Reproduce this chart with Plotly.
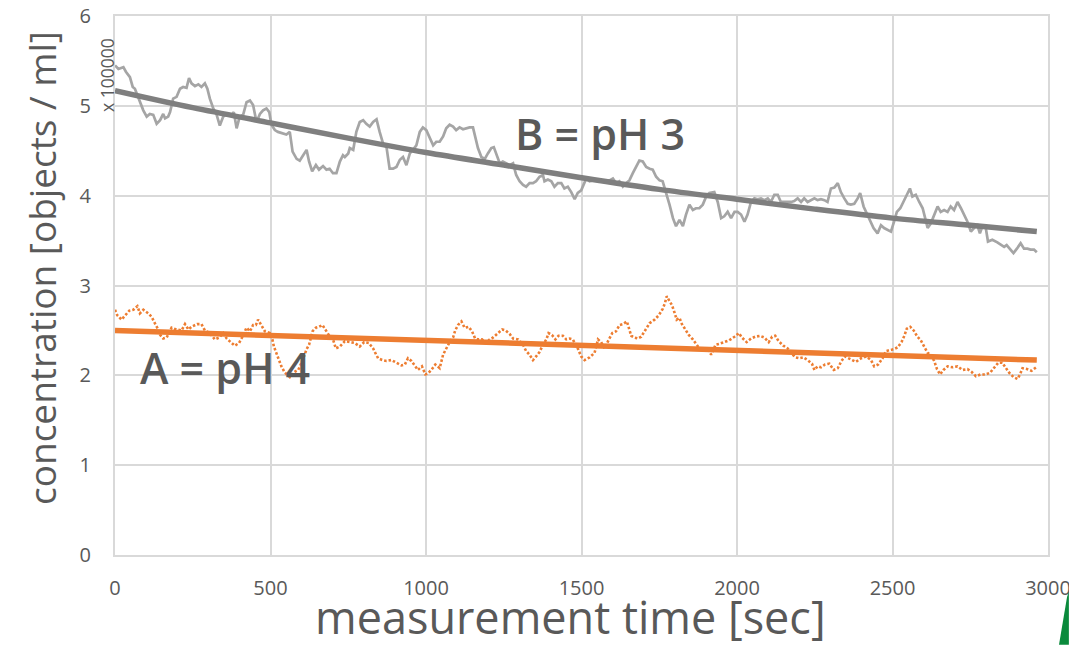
import plotly.graph_objects as go

# ---- data ----
# B = pH 3 raw measurement (grey)
t_b = [0, 11, 27, 35, 48, 57, 64, 80, 91, 102, 112, 123, 134, 145, 155, 161, 171, 177, 187, 198,
       209, 219, 230, 238, 246, 257, 268, 278, 289, 297, 305, 316, 326, 337, 348, 359, 375, 382, 391, 401,
       412, 423, 434, 444, 455, 466, 476, 487, 496, 503, 514, 524, 541, 551, 562, 571, 584, 594, 605, 616,
       624, 634, 646, 656, 669, 680, 690, 701, 712, 723, 733,
       739, 750, 755, 766, 776, 787, 798, 808, 819, 830, 841, 851, 862, 873, 883, 894, 905, 916, 926, 937,
       948, 958, 969, 980, 990, 1001, 1012, 1023, 1033, 1044, 1055, 1065, 1076, 1087, 1097, 1108, 1119, 1130,
       1140, 1151, 1159, 1167, 1178, 1189, 1199, 1210, 1218, 1226, 1237, 1247, 1258, 1269, 1280, 1290, 1301,
       1312, 1322, 1333, 1344, 1354, 1365, 1376, 1381, 1392, 1403, 1413, 1424, 1435, 1445, 1456, 1467, 1478,
       1488, 1499,
       1515, 1526, 1537, 1547, 1558, 1569, 1579, 1590, 1601, 1611, 1622, 1633, 1644, 1654, 1665, 1676, 1686,
       1697, 1708, 1719, 1729, 1740, 1751, 1761, 1772, 1783, 1794, 1804, 1815, 1826, 1836, 1847, 1858, 1868,
       1879, 1890, 1901, 1911, 1927, 1938, 1949, 1959, 1970, 1981, 1992, 2002, 2013, 2024, 2034, 2045, 2056,
       2066, 2077, 2088, 2099, 2109, 2120, 2131, 2141, 2152, 2163, 2174, 2184, 2195, 2206, 2216, 2227, 2238,
       2249, 2259, 2270, 2281, 2291, 2302, 2313, 2324, 2334, 2345, 2356, 2366, 2377, 2388, 2396, 2407, 2418,
       2428, 2439, 2452, 2463, 2473, 2484, 2495, 2505, 2514, 2525, 2535, 2546, 2556, 2564, 2575, 2586, 2597,
       2605, 2613, 2623, 2634, 2645, 2655, 2666, 2677, 2687, 2698, 2709, 2720, 2730, 2741, 2752, 2762, 2773,
       2781, 2789, 2800, 2807, 2821, 2837, 2848, 2859, 2867, 2878, 2889, 2900, 2912, 2923, 2934, 2944, 2955,
       2964]
v_b = [5.45, 5.41, 5.43, 5.38, 5.32, 5.21, 5.19, 5.04, 4.95, 4.88, 4.91, 4.90, 4.80, 4.84, 4.91, 4.86, 4.88, 4.93, 5.08, 5.10,
       5.19, 5.21, 5.20, 5.31, 5.25, 5.22, 5.24, 5.21, 5.25, 5.19, 5.08, 4.97, 4.91, 4.78, 4.88, 4.91, 4.90, 4.93, 4.75, 4.88,
       4.90, 5.04, 5.06, 5.01, 4.82, 4.91, 4.95, 4.97, 4.93, 4.79, 4.73, 4.71, 4.69, 4.68, 4.71, 4.49, 4.41, 4.39, 4.45, 4.51,
       4.38, 4.27, 4.34, 4.29, 4.33, 4.29, 4.30, 4.25, 4.25, 4.38, 4.45,
       4.43, 4.47, 4.53, 4.51, 4.71, 4.82, 4.84, 4.80, 4.77, 4.82, 4.85, 4.71, 4.58, 4.54, 4.30, 4.30, 4.32, 4.40, 4.43, 4.34,
       4.47, 4.51, 4.56, 4.71, 4.76, 4.73, 4.64, 4.56, 4.60, 4.60, 4.66, 4.75, 4.79, 4.77, 4.73, 4.76, 4.74, 4.75,
       4.76, 4.76, 4.66, 4.53, 4.43, 4.41, 4.47, 4.53, 4.54, 4.47, 4.36, 4.38, 4.36, 4.34, 4.36, 4.23, 4.16,
       4.12, 4.10, 4.14, 4.14, 4.16, 4.21, 4.23, 4.16, 4.18, 4.16, 4.10, 4.14, 4.14, 4.08, 4.10, 4.04, 3.96,
       4.03, 4.06,
       4.19, 4.16, 4.17, 4.17, 4.16, 4.16, 4.17, 4.17, 4.19, 4.14, 4.16, 4.10, 4.14, 4.17, 4.25, 4.32, 4.39,
       4.38, 4.32, 4.30, 4.29, 4.21, 4.17, 4.16, 4.04, 3.90, 3.75, 3.66, 3.73, 3.66, 3.79, 3.90, 3.84, 3.86,
       3.86, 3.90, 3.99, 4.03, 4.04, 3.93, 3.75, 3.77, 3.82, 3.75, 3.82, 3.82, 3.79, 3.71, 3.79, 3.93, 3.97,
       3.96, 3.97, 3.95, 3.97, 3.93, 4.01, 4.01, 3.93, 3.93, 3.93, 3.93, 3.94, 3.97, 3.93, 3.97, 3.93, 3.95,
       3.97, 3.95, 3.96, 3.95, 3.93, 4.08, 4.09, 4.14, 4.04, 3.97, 3.91, 3.90, 3.91, 3.97, 4.03, 3.88, 3.80,
       3.71, 3.64, 3.58, 3.67, 3.64, 3.62, 3.60, 3.71, 3.82, 3.86, 3.93, 4.01, 4.08, 3.99, 4.01, 3.93, 3.86,
       3.75, 3.64, 3.69, 3.79, 3.88, 3.82, 3.84, 3.82, 3.88, 3.84, 3.93, 3.86, 3.79, 3.71, 3.60, 3.64, 3.67,
       3.58, 3.66, 3.64, 3.49, 3.51, 3.48, 3.45, 3.43, 3.45, 3.40, 3.36, 3.41, 3.47, 3.41, 3.41, 3.40, 3.40,
       3.37]

# B trend line (grey, thick)
t_b_trend = [0, 250, 500, 750, 1000, 1250, 1500, 1750, 2000, 2250, 2500, 2750, 2964]
v_b_trend = [5.17, 4.98, 4.81, 4.64, 4.48, 4.34, 4.20, 4.07, 3.96, 3.85, 3.75, 3.67, 3.60]

# A = pH 4 raw measurement (orange, dotted)
t_a = [0, 7, 21, 35, 46, 59, 72, 80, 91, 107, 118, 128, 139, 145, 155, 166, 182, 198, 214, 225,
       236, 246, 264, 278, 289, 305, 321, 335, 348, 359, 369, 385, 399, 410, 423, 434, 444, 453, 460, 471,
       482, 498, 506, 511, 519, 528, 535, 546, 562, 573, 589, 600, 607, 616, 624, 635, 646, 656, 667, 680,
       691, 701, 710, 723,
       739, 755, 771, 787, 801, 816, 830, 837, 846, 859, 873, 889, 905, 921, 932, 942, 953, 964, 974, 987,
       998, 1006, 1017, 1030, 1044, 1055, 1065, 1076, 1087, 1094, 1103, 1114, 1124, 1137, 1148, 1158, 1167,
       1180, 1194, 1205, 1215, 1226, 1237, 1245, 1256, 1269, 1280, 1296, 1312, 1322, 1333, 1344, 1354, 1365,
       1376, 1387, 1394, 1405, 1416, 1426, 1440, 1451, 1462, 1472, 1488, 1499,
       1510, 1526, 1542, 1553, 1563, 1574, 1588, 1599, 1611, 1622, 1633, 1646, 1652, 1660, 1670, 1681, 1692,
       1703, 1719, 1735, 1749, 1761, 1768, 1774, 1783, 1791, 1799, 1806, 1815, 1823, 1834, 1845, 1858, 1871,
       1881, 1895, 1906, 1917, 1931, 1943, 1959, 1975, 1992, 2006, 2016, 2031, 2045, 2059, 2074, 2088, 2102,
       2113, 2123, 2134, 2149, 2163, 2174, 2188, 2200, 2213, 2227, 2241,
       2249, 2259, 2270, 2283, 2297, 2311, 2324, 2336, 2347, 2369, 2382, 2399, 2415, 2431, 2441, 2454, 2468,
       2479, 2493, 2503, 2516, 2529, 2538, 2546, 2557, 2568, 2580, 2591, 2602, 2613, 2623, 2634, 2643, 2653,
       2664, 2677, 2693, 2709, 2725, 2741, 2754, 2768, 2784, 2800, 2814, 2827, 2840, 2853, 2864, 2875, 2889,
       2902, 2910, 2918, 2932, 2947, 2962]
v_a = [2.73, 2.67, 2.62, 2.67, 2.72, 2.73, 2.77, 2.69, 2.73, 2.69, 2.65, 2.58, 2.51, 2.45, 2.41, 2.42, 2.53, 2.51, 2.50, 2.57,
       2.51, 2.54, 2.57, 2.57, 2.50, 2.47, 2.40, 2.42, 2.47, 2.41, 2.38, 2.33, 2.36, 2.43, 2.53, 2.49, 2.56, 2.56, 2.62, 2.56,
       2.49, 2.47, 2.40, 2.32, 2.24, 2.17, 2.10, 2.03, 1.98, 2.03, 2.06, 2.14, 2.21, 2.29, 2.34, 2.49, 2.53, 2.54, 2.56, 2.49,
       2.43, 2.40, 2.30, 2.32,
       2.38, 2.37, 2.36, 2.32, 2.37, 2.36, 2.30, 2.25, 2.19, 2.17, 2.16, 2.17, 2.14, 2.11, 2.12, 2.19, 2.16, 2.10, 2.06, 2.10,
       2.01, 2.02, 2.06, 2.12, 2.08, 2.23, 2.30, 2.37, 2.42, 2.50, 2.56, 2.60, 2.53, 2.54, 2.49, 2.41, 2.40,
       2.40, 2.36, 2.40, 2.42, 2.45, 2.49, 2.51, 2.50, 2.46, 2.41, 2.40, 2.34, 2.27, 2.23, 2.17, 2.21, 2.26,
       2.34, 2.40, 2.47, 2.45, 2.40, 2.44, 2.44, 2.40, 2.41, 2.40, 2.30, 2.21,
       2.17, 2.20, 2.25, 2.40, 2.37, 2.30, 2.40, 2.47, 2.49, 2.56, 2.57, 2.60, 2.53, 2.44, 2.42, 2.41, 2.43,
       2.49, 2.58, 2.62, 2.67, 2.74, 2.80, 2.88, 2.82, 2.78, 2.70, 2.62, 2.64, 2.57, 2.51, 2.45, 2.40, 2.34,
       2.29, 2.30, 2.29, 2.23, 2.34, 2.35, 2.37, 2.39, 2.43, 2.47, 2.42, 2.37, 2.41, 2.43, 2.44, 2.42, 2.37,
       2.43, 2.44, 2.38, 2.33, 2.30, 2.25, 2.20, 2.19, 2.20, 2.17, 2.13,
       2.06, 2.10, 2.09, 2.12, 2.13, 2.06, 2.08, 2.16, 2.21, 2.17, 2.15, 2.19, 2.21, 2.17, 2.10, 2.12, 2.19,
       2.27, 2.28, 2.29, 2.31, 2.37, 2.44, 2.52, 2.54, 2.50, 2.43, 2.39, 2.32, 2.25, 2.23, 2.16, 2.07, 2.01,
       2.06, 2.10, 2.09, 2.10, 2.06, 2.07, 2.04, 1.99, 2.01, 2.01, 2.03, 2.09, 2.14, 2.14, 2.08, 2.03, 1.98,
       1.96, 2.01, 2.08, 2.07, 2.05, 2.09]

# A trend line (orange, thick)
t_a_trend = [0, 2964]
v_a_trend = [2.50, 2.17]

x_ticks = [0, 500, 1000, 1500, 2000, 2500, 3000]
y_ticks = [0, 1, 2, 3, 4, 5, 6]

label_b = "B = pH 3"
label_a = "A = pH 4"
y_title = "concentration [objects / ml]"
x_title = "measurement time [sec]"
y_unit = "x 100000"

GREY_TXT = "#595959"
FONT = "Open Sans"

fig = go.Figure()
fig.add_trace(go.Scatter(x=t_b, y=v_b, mode="lines",
                         line=dict(color="#A5A5A5", width=2.7), hoverinfo="skip"))
fig.add_trace(go.Scatter(x=t_a, y=v_a, mode="lines",
                         line=dict(color="#ED7D31", width=2.6, dash="2.5px,2px"), hoverinfo="skip"))
fig.add_trace(go.Scatter(x=t_b_trend, y=v_b_trend, mode="lines", line_shape="spline",
                         line=dict(color="#7F7F7F", width=5.5), hoverinfo="skip"))
fig.add_trace(go.Scatter(x=t_a_trend, y=v_a_trend, mode="lines",
                         line=dict(color="#ED7D31", width=5.5), hoverinfo="skip"))

fig.update_layout(
    width=1069, height=645,
    margin=dict(l=115, r=21, t=16, b=90, pad=0, autoexpand=False),
    paper_bgcolor="white", plot_bgcolor="white",
    showlegend=False,
    font=dict(family=FONT, color=GREY_TXT),
    xaxis=dict(range=[0, 3000], tickvals=x_ticks, showgrid=True, gridcolor="#D9D9D9", gridwidth=2,
               zeroline=False, showline=True, linecolor="#D9D9D9", linewidth=2, mirror=True,
               tickfont=dict(size=20, color=GREY_TXT, family=FONT), ticks="", ticklabelstandoff=14,
               ticklabeloverflow="allow"),
    yaxis=dict(range=[0, 6], tickvals=y_ticks, showgrid=True, gridcolor="#D9D9D9", gridwidth=2,
               zeroline=False, showline=True, linecolor="#D9D9D9", linewidth=2, mirror=True,
               tickfont=dict(size=20, color=GREY_TXT, family=FONT), ticks="", ticklabelstandoff=18,
               ticklabeloverflow="allow"),
    annotations=[
        dict(text=label_b, x=1559, y=4.69, xref="x", yref="y", showarrow=False,
             xanchor="center", yanchor="middle",
             font=dict(size=43, color=GREY_TXT, family=FONT, weight=600)),
        dict(text=label_a, x=354, y=2.09, xref="x", yref="y", showarrow=False,
             xanchor="center", yanchor="middle",
             font=dict(size=43, color=GREY_TXT, family=FONT, weight=600)),
        dict(text=y_title, x=-0.0782, y=0.5325, xref="paper", yref="paper", showarrow=False,
             xanchor="center", yanchor="middle",
             textangle=-90, font=dict(size=37, color=GREY_TXT, family=FONT)),
        dict(text=x_title, x=0.4877, y=-0.1150, xref="paper", yref="paper", showarrow=False,
             xanchor="center", yanchor="middle",
             font=dict(size=45, color=GREY_TXT, family=FONT)),
        dict(text=y_unit, x=-0.0086, y=0.8905, xref="paper", yref="paper", showarrow=False,
             xanchor="center", yanchor="middle",
             textangle=-90, font=dict(size=17.5, color=GREY_TXT, family=FONT)),
    ],
    shapes=[
        dict(type="path", xref="paper", yref="paper",
             path="M 1.0118 -0.1665 L 1.0204 -0.078 L 1.0224 -0.068 L 1.0224 -0.1665 Z",
             fillcolor="#0A8A3C", line=dict(width=0), layer="above"),
    ],
)

fig.write_html("out.html")
